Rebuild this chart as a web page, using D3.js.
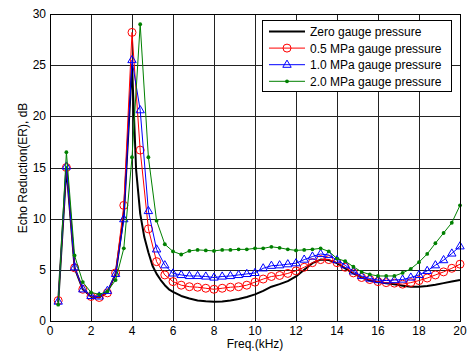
<!DOCTYPE html>
<html>
<head>
<meta charset="utf-8">
<script src="https://cdn.jsdelivr.net/npm/d3@7/dist/d3.min.js"></script>
<style>
  body { margin: 0; background: #fff; }
  svg text { font-family: 'Liberation Sans', Arial, sans-serif; font-size: 12px; fill: #000; }
</style>
</head>
<body>
<div class="graphic"></div>
<script>
// frequency grid for the measured series (kHz)
const freq = d3.range(1, 51).map(function (i) { return +(i * 0.4).toFixed(1); });

const red05 = [2.0, 15.0, 5.2, 3.1, 2.4, 2.3, 2.75, 4.7, 11.3, 28.2,
  16.7, 9.0, 5.8, 4.5, 3.85, 3.5, 3.35, 3.3, 3.2, 3.1,
  3.2, 3.3, 3.35, 3.5, 3.8, 4.1, 4.35, 4.45, 4.65, 4.9,
  5.25, 5.7, 6.0, 6.0, 5.7, 5.25, 4.7, 4.25, 4.05, 3.85,
  3.75, 3.7, 3.6, 3.75, 3.95, 4.2, 4.5, 4.8, 5.15, 5.55];

const blue10 = [1.9, 15.1, 5.25, 3.1, 2.45, 2.4, 2.95, 4.6, 9.95, 25.5,
  20.6, 10.75, 7.0, 5.45, 4.65, 4.5, 4.4, 4.4, 4.35, 4.25,
  4.35, 4.4, 4.5, 4.6, 4.7, 5.15, 5.4, 5.45, 5.55, 5.65,
  6.0, 6.3, 6.55, 6.45, 5.95, 5.45, 4.85, 4.4, 4.15, 4.0,
  3.95, 4.0, 4.05, 4.25, 4.5, 4.9, 5.45, 5.95, 6.6, 7.3];

const green20 = [1.6, 16.5, 6.4, 3.8, 2.8, 2.6, 2.9, 4.0, 7.1, 16.0,
  29.0, 16.0, 9.8, 7.5, 6.8, 6.5, 6.85, 6.95, 6.9, 6.85,
  6.95, 6.95, 7.0, 7.0, 7.1, 7.1, 7.25, 7.15, 7.0, 6.9,
  6.95, 7.0, 7.1, 6.8, 6.1, 5.85, 5.3, 4.8, 4.55, 4.4,
  4.4, 4.4, 4.7, 5.1, 5.75, 6.55, 7.6, 8.6, 9.6, 11.3];

// zero gauge pressure curve (no markers)
const zeroFreq = [0.4, 0.8, 1.2, 1.6, 2.0, 2.4, 2.8, 3.2, 3.6, 4.0,
  4.2, 4.4, 4.6, 4.8, 5.0, 5.2, 5.4, 5.6, 5.8, 6.0,
  6.4, 6.8, 7.2, 7.6, 8.0, 8.4, 8.8, 9.2, 9.6, 10.0,
  10.4, 10.8, 11.2, 11.6, 12.0, 12.4, 12.8, 13.2, 13.6, 14.0,
  14.4, 14.8, 15.2, 15.6, 16.0, 16.4, 16.8, 17.2, 17.6, 18.0,
  18.4, 18.8, 19.2, 19.6, 20.0];
const zero0 = [1.8, 15.0, 5.2, 3.1, 2.4, 2.3, 2.8, 4.6, 10.3, 25.0,
  14.8, 10.5, 8.2, 6.7, 5.4, 4.6, 4.0, 3.5, 3.1, 2.85,
  2.45, 2.2, 2.0, 1.92, 1.88, 1.9, 2.0, 2.15, 2.35, 2.6,
  2.95, 3.35, 3.6, 3.9, 4.35, 5.0, 5.65, 6.0, 5.95, 5.65,
  5.15, 4.65, 4.25, 3.95, 3.8, 3.7, 3.6, 3.45, 3.35, 3.35,
  3.42, 3.55, 3.7, 3.85, 4.0];

const xTicks = d3.range(0, 21, 2);
const yTicks = d3.range(0, 31, 5);
const legendLabels = ['Zero gauge pressure', '0.5 MPa gauge pressure', '1.0 MPa gauge pressure', '2.0 MPa gauge pressure'];

const W = 470, H = 354;
const margin = {top: 14, right: 10, bottom: 33, left: 50};

const svg = d3.select('.graphic')
  .append('svg')
  .attr('width', W)
  .attr('height', H);

const x = d3.scaleLinear().domain([0, 20]).range([margin.left, W - margin.right]);
const y = d3.scaleLinear().domain([0, 30]).range([H - margin.bottom, margin.top]);

// grid
const grid = svg.append('g').attr('class', 'grid');
grid.selectAll('line.vx')
  .data(xTicks)
  .enter().append('line')
  .attr('class', 'vx')
  .attr('x1', function (d) { return Math.round(x(d)) + 0.5; })
  .attr('x2', function (d) { return Math.round(x(d)) + 0.5; })
  .attr('y1', y(0))
  .attr('y2', y(30))
  .style('stroke', '#222')
  .style('stroke-width', 1);
grid.selectAll('line.hy')
  .data(yTicks)
  .enter().append('line')
  .attr('class', 'hy')
  .attr('x1', x(0))
  .attr('x2', x(20))
  .attr('y1', function (d) { return Math.round(y(d)) + 0.5; })
  .attr('y2', function (d) { return Math.round(y(d)) + 0.5; })
  .style('stroke', '#222')
  .style('stroke-width', 1);

// tick labels
svg.append('g')
  .selectAll('text')
  .data(xTicks)
  .enter().append('text')
  .attr('x', function (d) { return x(d); })
  .attr('y', H - margin.bottom + 14)
  .attr('text-anchor', 'middle')
  .text(function (d) { return d; });

svg.append('g')
  .selectAll('text')
  .data(yTicks)
  .enter().append('text')
  .attr('x', margin.left - 4)
  .attr('y', function (d) { return y(d) + 4; })
  .attr('text-anchor', 'end')
  .text(function (d) { return d; });

svg.append('text')
  .attr('x', (x(0) + x(20)) / 2)
  .attr('y', 348)
  .attr('text-anchor', 'middle')
  .text('Freq.(kHz)');

svg.append('text')
  .attr('transform', 'translate(27,168) rotate(-90)')
  .attr('text-anchor', 'middle')
  .text('Echo Reduction(ER), dB');

// series
const line = d3.line()
  .x(function (d) { return x(d[0]); })
  .y(function (d) { return y(d[1]); });

const triangle = 'M0,-4.6L4.2,2.6L-4.2,2.6Z';

const series = [
  {name: legendLabels[0], color: '#000', width: 2, pts: d3.zip(zeroFreq, zero0), marker: 'none'},
  {name: legendLabels[1], color: '#ff0000', width: 1, pts: d3.zip(freq, red05), marker: 'circle'},
  {name: legendLabels[2], color: '#0000ff', width: 1, pts: d3.zip(freq, blue10), marker: 'triangle'},
  {name: legendLabels[3], color: '#008000', width: 1, pts: d3.zip(freq, green20), marker: 'dot'}
];

function drawMarker(g, marker, color) {
  if (marker === 'circle') {
    g.append('circle').attr('r', 4).style('fill', 'none').style('stroke', color).style('stroke-width', 1);
  } else if (marker === 'triangle') {
    g.append('path').attr('d', triangle).style('fill', 'none').style('stroke', color).style('stroke-width', 1);
  } else if (marker === 'dot') {
    g.append('circle').attr('r', 1.9).style('fill', color).style('stroke', 'none');
  }
}

series.forEach(function (s) {
  svg.append('path')
    .datum(s.pts)
    .attr('d', line)
    .style('fill', 'none')
    .style('stroke', s.color)
    .style('stroke-width', s.width)
    .style('stroke-linejoin', 'round');

  if (s.marker !== 'none') {
    svg.append('g')
      .selectAll('g')
      .data(s.pts)
      .enter().append('g')
      .attr('transform', function (d) { return 'translate(' + x(d[0]) + ',' + y(d[1]) + ')'; })
      .each(function () { drawMarker(d3.select(this), s.marker, s.color); });
  }
});

// axes box
svg.append('rect')
  .attr('x', x(0) + 0.5)
  .attr('y', y(30) + 0.5)
  .attr('width', x(20) - x(0))
  .attr('height', y(0) - y(30))
  .style('fill', 'none')
  .style('stroke', '#000')
  .style('stroke-width', 1);

// legend
const lg = svg.append('g').attr('transform', 'translate(262,20)');
lg.append('rect')
  .attr('x', 0.5)
  .attr('y', 0.5)
  .attr('width', 189)
  .attr('height', 71)
  .style('fill', '#fff')
  .style('stroke', '#000')
  .style('stroke-width', 1);

const item = lg.selectAll('g.item')
  .data(series)
  .enter().append('g')
  .attr('class', 'item')
  .attr('transform', function (d, i) { return 'translate(0,' + (11.5 + i * 16.6) + ')'; });

item.append('line')
  .attr('x1', 7)
  .attr('x2', 43)
  .style('stroke', function (d) { return d.color; })
  .style('stroke-width', function (d) { return d.width; });

item.each(function (d) {
  const m = d3.select(this).append('g').attr('transform', 'translate(25,0)');
  drawMarker(m, d.marker, d.color);
});

item.append('text')
  .attr('x', 48)
  .attr('y', 4.5)
  .text(function (d) { return d.name; });
</script>
</body>
</html>
